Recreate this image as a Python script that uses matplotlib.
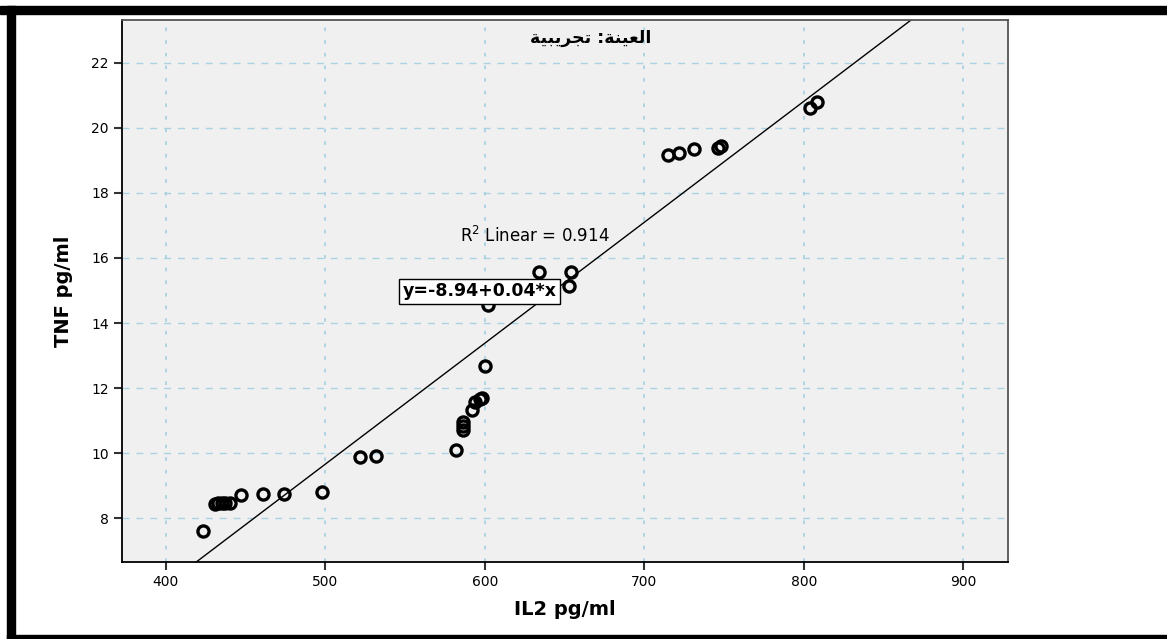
import numpy as np
import matplotlib.pyplot as plt
from matplotlib.patches import Rectangle

il2 = [423, 431, 433, 435, 437, 440, 447, 461, 474, 498,
       522, 532, 582, 586, 586, 586, 592, 594, 597, 598, 600,
       602, 634, 653, 654, 715, 722, 731, 746, 748, 804, 808]
tnf = [7.60, 8.42, 8.45, 8.46, 8.46, 8.48, 8.70, 8.73, 8.75, 8.79,
       9.88, 9.91, 10.09, 10.70, 10.82, 10.95, 11.34, 11.58, 11.66, 11.70, 12.68,
       14.55, 15.58, 15.14, 15.58, 19.17, 19.24, 19.35, 19.38, 19.44, 20.61, 20.81]

intercept = -8.94
slope = 0.0372
r2 = 0.914

xticks = [400, 500, 600, 700, 800, 900]
yticks = [8, 10, 12, 14, 16, 18, 20, 22]

# Arabic title "العينة: تجريبية" written in visual order with presentation forms
title = '\uFE94\uFEF4\uFE92\uFEF3\uFEAE\uFEA0\uFE97 :\uFE94\uFEE8\uFEF4\uFECC\uFEDF\uFE8D'

plt.rcParams['font.family'] = ['DejaVu Sans']

fig = plt.figure(figsize=(11.67, 6.39), dpi=100)
ax = fig.add_axes([0.1045, 0.1205, 0.7593, 0.8482])
ax.set_facecolor('#f0f0f0')

ax.set_xlim(372.5, 928)
ax.set_ylim(6.65, 23.32)
ax.set_xticks(xticks)
ax.set_yticks(yticks)
ax.tick_params(direction='out', length=6, width=1.5, color='#333333', labelsize=10)

ax.grid(True, axis='y', color='#a9d2e2', linestyle=(0, (5, 5)), linewidth=1)
ax.grid(True, axis='x', color='#a9d2e2', linestyle=(0, (2, 5)), linewidth=1.3)
ax.set_axisbelow(True)

for s in ['left', 'bottom']:
    ax.spines[s].set_color('black')
    ax.spines[s].set_linewidth(1.3)
for s in ['top', 'right']:
    ax.spines[s].set_color('#555555')
    ax.spines[s].set_linewidth(1.3)

# fit line
xl = np.array(ax.get_xlim())
ax.plot(xl, intercept + slope * xl, color='black', linewidth=1, zorder=2)

ax.plot(il2, tnf, linestyle='none', marker='o', markersize=8,
        markerfacecolor='none', markeredgecolor='black', markeredgewidth=2.4, zorder=3)

ax.text(631.5, 16.68, 'R$^2$ Linear = 0.914', ha='center', va='center', fontsize=12)
ax.text(548.5, 14.97, 'y=-8.94+0.04*x', ha='left', va='center', fontsize=12.5,
        fontweight='bold', zorder=5,
        bbox=dict(boxstyle='square,pad=0.2', facecolor='white', edgecolor='black', linewidth=1))

ax.text(0.529, 0.967, title, transform=ax.transAxes, ha='center', va='center',
        fontsize=12.5, fontweight='bold')

ax.set_xlabel('IL2 pg/ml', fontsize=14, fontweight='bold', labelpad=8)
ax.set_ylabel('TNF pg/ml', fontsize=14, fontweight='bold', labelpad=13)

# black frame around the picture (top, left, bottom)
fig.patches.append(Rectangle((0, 1 - 14 / 639), 1, 8 / 639, transform=fig.transFigure,
                             color='black', zorder=10))
fig.patches.append(Rectangle((7 / 1167, 0), 8 / 1167, 1 - 6 / 639, transform=fig.transFigure,
                             color='black', zorder=10))
fig.patches.append(Rectangle((7 / 1167, 0), 1, 4 / 639, transform=fig.transFigure,
                             color='black', zorder=10))

fig.savefig('out.png', dpi=100)
